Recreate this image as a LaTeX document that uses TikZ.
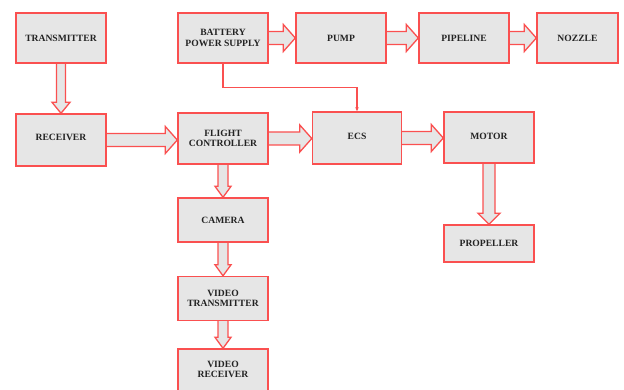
\documentclass[tikz,border=0pt]{standalone}
\usepackage{fontspec}
\setmainfont{Liberation Serif}
\usetikzlibrary{calc,arrows.meta}
\definecolor{bred}{RGB}{250,80,80}
\definecolor{bgray}{RGB}{230,230,230}
\definecolor{btext}{RGB}{35,35,35}
\pgfdeclarelayer{background}
\pgfsetlayers{background,main}
\tikzset{
  box/.style={draw=bred,fill=bgray,line width=1.4pt,minimum width=90pt,inner sep=1pt,
    align=center,font=\fontsize{9.6}{10.5}\selectfont\bfseries,text=btext},
  barrow/.style={draw=bred,fill=bgray,line width=1.3pt,line join=miter},
  thinline/.style={draw=bred,line width=1.1pt,-{Stealth[length=4pt,width=3.5pt]}}
}
\newcommand\harr[4]{% from, to, shaft half, head half
  \begin{pgfonlayer}{background}
  \draw[barrow] let \p1=(#1.east), \p2=(#2.west) in
    (\x1-2pt,\y1+#3) -- (\x2-12pt,\y1+#3) -- (\x2-12pt,\y1+#4) -- (\x2,\y1)
    -- (\x2-12pt,\y1-#4) -- (\x2-12pt,\y1-#3) -- (\x1-2pt,\y1-#3);
  \end{pgfonlayer}}
\newcommand\varr[4]{% from, to, shaft half, head half
  \begin{pgfonlayer}{background}
  \draw[barrow] let \p1=(#1.south), \p2=(#2.north) in
    (\x1-#3,\y1+2pt) -- (\x1-#3,\y2+11pt) -- (\x1-#4,\y2+11pt) -- (\x1,\y2)
    -- (\x1+#4,\y2+11pt) -- (\x1+#3,\y2+11pt) -- (\x1+#3,\y1+2pt);
  \end{pgfonlayer}}
\begin{document}
\begin{tikzpicture}[x=1pt,y=-1pt]
\useasboundingbox (0,0) rectangle (624,390);
\node[box,minimum height=50pt] (tx) at (61,38) {TRANSMITTER};
\node[box,minimum height=52pt] (rx) at (61,140) {\raisebox{6pt}{RECEIVER}};
\node[box,minimum height=50pt] (bat) at (223,38) {BATTERY\\POWER SUPPLY};
\node[box,minimum height=50pt] (pump) at (341,38) {PUMP};
\node[box,minimum height=50pt] (pipe) at (464,38) {PIPELINE};
\node[box,minimum height=50pt,minimum width=81pt] (noz) at (577.5,38) {NOZZLE};
\node[box,minimum height=51pt] (fc) at (223,138.5) {FLIGHT\\CONTROLLER};
\node[box,minimum height=52pt,minimum width=89pt] (ecs) at (357,138) {\raisebox{3pt}{ECS}};
\node[box,minimum height=51pt] (mot) at (489,137.5) {\raisebox{3pt}{MOTOR}};
\node[box,minimum height=37pt] (prop) at (489,243.5) {PROPELLER};
\node[box,minimum height=44pt] (cam) at (223,220) {CAMERA};
\node[box,minimum height=44pt] (vtx) at (223,298.5) {VIDEO\\TRANSMITTER};
\node[box,minimum height=44pt] (vrx) at (223,371) {\raisebox{3pt}{\shortstack{VIDEO\\RECEIVER}}};
\varr{tx}{rx}{4.5pt}{9pt}
\harr{rx}{fc}{6.5pt}{13.5pt}
\harr{bat}{pump}{6.5pt}{13.5pt}
\harr{pump}{pipe}{6.5pt}{13.5pt}
\harr{pipe}{noz}{6.5pt}{13.5pt}
\harr{fc}{ecs}{6.5pt}{13.5pt}
\harr{ecs}{mot}{6.5pt}{13.5pt}
\varr{fc}{cam}{5pt}{8pt}
\varr{cam}{vtx}{5pt}{8pt}
\varr{vtx}{vrx}{5pt}{8pt}
\varr{mot}{prop}{6pt}{11pt}
\draw[thinline] (bat.south) |- ($(ecs.north)+(0,-24)$) -- (ecs.north);
\end{tikzpicture}
\end{document}
